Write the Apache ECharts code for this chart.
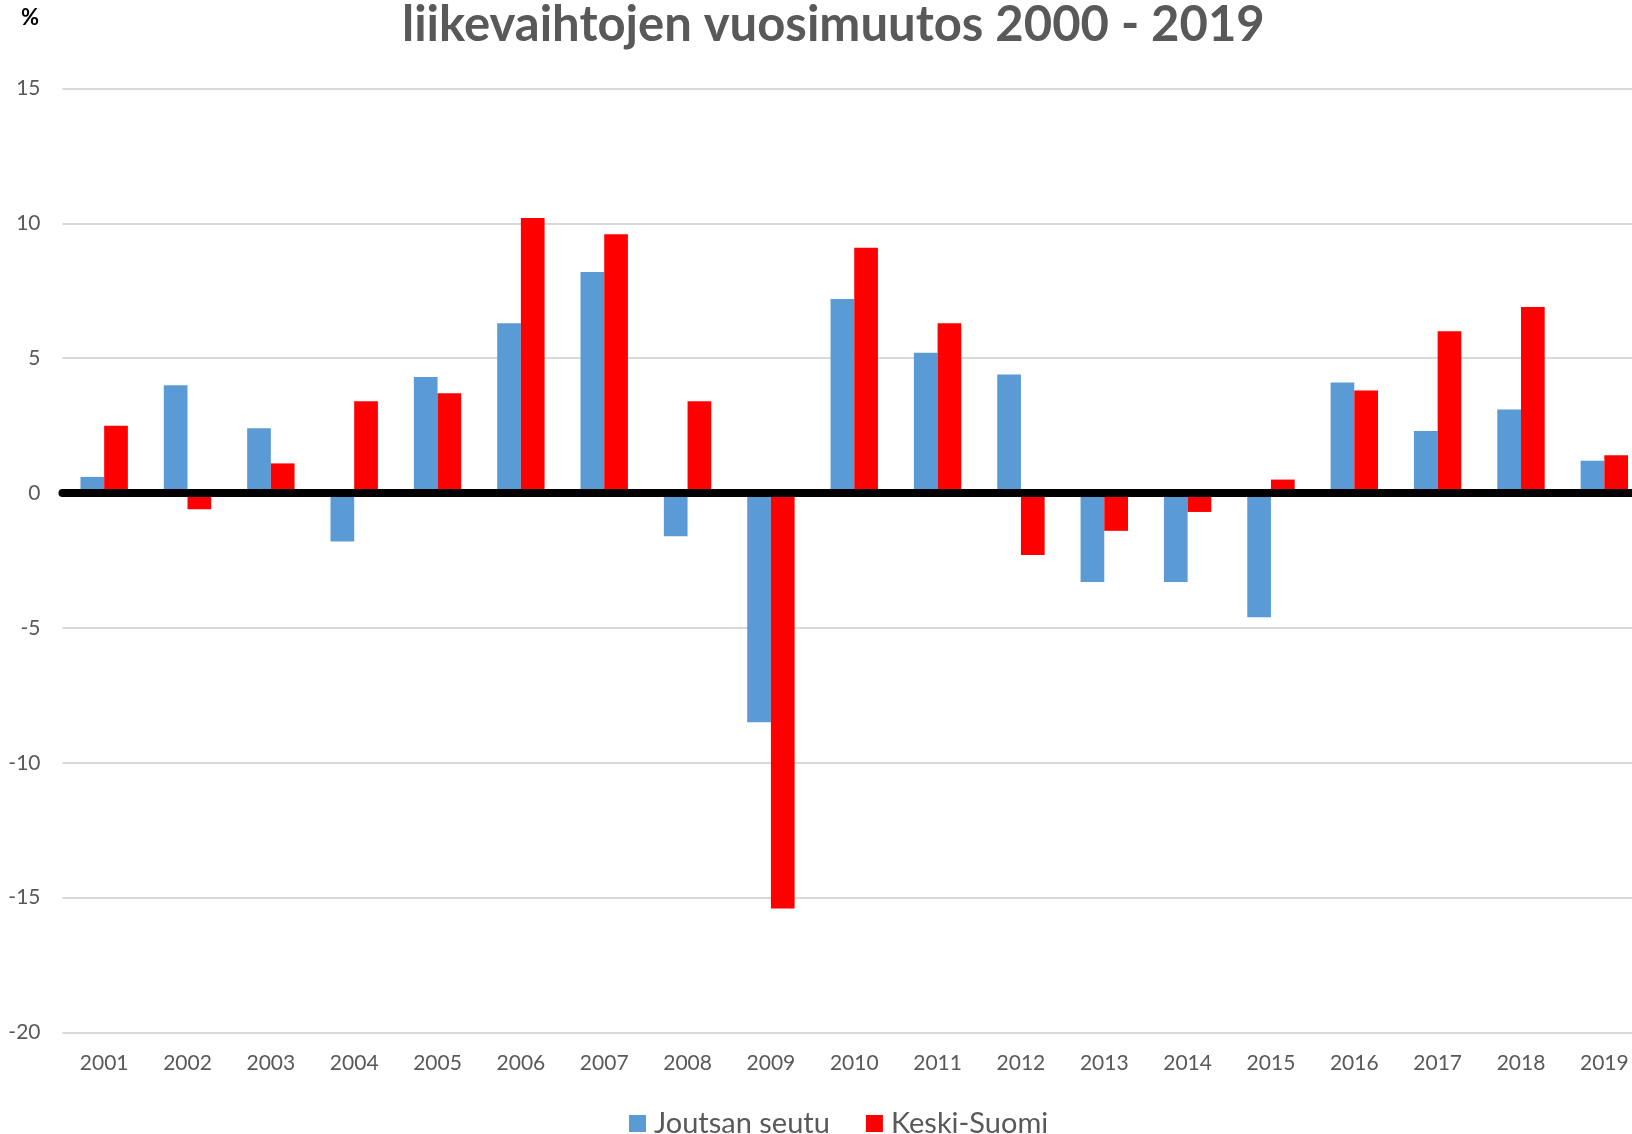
<!DOCTYPE html>
<html>
<head>
<meta charset="utf-8">
<title>liikevaihtojen vuosimuutos 2000 - 2019</title>
<script src="https://cdn.jsdelivr.net/npm/echarts@6/dist/echarts.min.js"></script>
<style>
  html, body { margin: 0; padding: 0; background: #fff; overflow: hidden; }
  /* kuva on alkuperäisessäkin rajattu oikeasta reunasta */
  #chart { width: 1646px; height: 1134px; }
</style>
</head>
<body>
<div id="chart"></div>
<script>
// vuodet (kategoriat)
const years = ['2001', '2002', '2003', '2004', '2005', '2006', '2007', '2008', '2009', '2010',
  '2011', '2012', '2013', '2014', '2015', '2016', '2017', '2018', '2019'];

// liikevaihdon vuosimuutos, %
const joutsanSeutu = [0.6, 4.0, 2.4, -1.8, 4.3, 6.3, 8.2, -1.6, -8.5, 7.2,
  5.2, 4.4, -3.3, -3.3, -4.6, 4.1, 2.3, 3.1, 1.2];
const keskiSuomi = [2.5, -0.6, 1.1, 3.4, 3.7, 10.2, 9.6, 3.4, -15.4, 9.1,
  6.3, -2.3, -1.4, -0.7, 0.5, 3.8, 6.0, 6.9, 1.4];

// y-akselin asteikko
const yMin = -20;
const yMax = 15;
const yStep = 5;

const FONT = 'Lato, "Open Sans", sans-serif';
const GREY = '#595959';

const chart = echarts.init(document.getElementById('chart'));

const option = {
  animation: false,
  title: [{
    text: 'liikevaihtojen vuosimuutos 2000 - 2019',
    left: 397,
    top: -4,
    textStyle: { fontFamily: FONT, fontSize: 49, fontWeight: 'bold', color: GREY }
  }, {
    text: '%',
    left: 16,
    top: 2,
    textStyle: { fontFamily: FONT, fontSize: 22, fontWeight: 'bold', color: '#000' }
  }],
  legend: {
    left: 624,
    top: 1104,
    icon: 'rect',
    itemWidth: 17,
    itemHeight: 17,
    itemGap: 36,
    textStyle: { fontFamily: FONT, fontSize: 29, color: GREY, padding: [0, 0, 0, 3] },
    data: ['Joutsan seutu', 'Keski-Suomi']
  },
  grid: {
    left: 62.5,
    right: 0,
    top: 88.5,
    bottom: 101.5,
    containLabel: false
  },
  xAxis: [{
    type: 'category',
    data: years,
    position: 'bottom',
    axisLine: { show: false, onZero: false },
    axisTick: { show: false },
    axisLabel: { fontFamily: FONT, fontSize: 21, color: GREY, margin: 20 }
  }, {
    // paksu nollaviiva
    type: 'category',
    data: years,
    z: 10,
    axisLine: { show: true, onZero: true, lineStyle: { color: '#000', width: 8 } },
    axisTick: { show: false },
    axisLabel: { show: false },
    splitLine: { show: false }
  }],
  yAxis: {
    type: 'value',
    min: yMin,
    max: yMax,
    interval: yStep,
    axisLine: { show: false },
    axisTick: { show: false },
    axisLabel: { fontFamily: FONT, fontSize: 21, color: GREY, margin: 22 },
    splitLine: { lineStyle: { color: '#D9D9D9', width: 2 } }
  },
  series: [{
    name: 'Joutsan seutu',
    type: 'bar',
    data: joutsanSeutu,
    barWidth: 23.7,
    barGap: '0%',
    itemStyle: { color: '#5B9BD5' }
  }, {
    name: 'Keski-Suomi',
    type: 'bar',
    data: keskiSuomi,
    barWidth: 23.7,
    barGap: '0%',
    itemStyle: { color: '#FF0000' }
  }]
};

chart.setOption(option);
window.addEventListener('resize', () => chart.resize());
</script>
</body>
</html>
